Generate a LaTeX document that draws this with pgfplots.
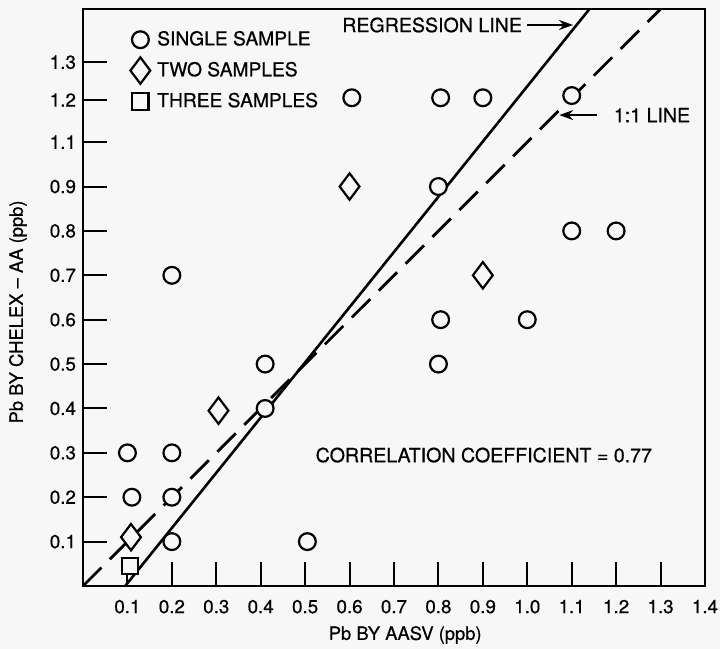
\documentclass[border=0pt]{standalone}
\usepackage{fontspec}
\setmainfont{TeX Gyre Heros}[FakeBold=0.6]
\usepackage{pgfplots}
\pgfplotsset{compat=1.18}
\usetikzlibrary{arrows.meta}
\definecolor{paper}{gray}{0.97}
\newcommand\annfont{\fontsize{9.8}{11.5}\selectfont}

\begin{document}
\begin{tikzpicture}
\fill[paper] (-41.5pt,-31.5pt) rectangle (318.5pt,293pt);
\begin{axis}[
    at={(0pt,0pt)}, anchor=south west,
    scale only axis,
    width=311pt, height=288.5pt,
    xmin=0, xmax=1.4, ymin=0, ymax=1.3,
    axis line style={line width=1.2pt},
    tick align=inside,
    major tick length=12pt,
    tick style={line width=1pt, black},
    xtick pos=lower, ytick pos=left,
    xtick={0.1,0.2,0.3,0.4,0.5,0.6,0.7,0.8,0.9,1.0,1.1,1.2,1.3,1.4},
    xticklabels={0.1,0.2,0.3,0.4,0.5,0.6,0.7,0.8,0.9,1.0,1.1,1.2,1.3,1.4},
    % the scanned axis skips 1.0 and the upper labels are unevenly spaced
    ytick={0.1,0.2,0.3,0.4,0.5,0.6,0.7,0.8,0.9,1.0,1.095,1.18},
    yticklabels={0.1,0.2,0.3,0.4,0.5,0.6,0.7,0.8,0.9,1.1,1.2,1.3},
    ticklabel style={font=\fontsize{9.4}{11}\selectfont},
    xticklabel style={yshift=-3.4pt},
    /pgf/number format/assume math mode=true,
    xlabel={Pb BY AASV (ppb)},
    ylabel={Pb BY CHELEX -- AA (ppb)},
    label style={font=\fontsize{9.2}{11}\selectfont},
    xlabel style={at={(axis description cs:0.518,-0.085)}, anchor=center},
    ylabel style={at={(axis description cs:-0.1045,0.475)}, anchor=center},
    legend style={at={(axis cs:0.106,1.258)}, anchor=north west, draw=none, fill=none,
        inner sep=0pt, font=\fontsize{9.6}{11}\selectfont, row sep=3pt,
        nodes={inner sep=1.5pt},
        /tikz/every odd column/.style={column sep=2pt}},
    legend cell align=left,
    legend image code/.code={\draw[#1] plot coordinates {(0pt,0pt)};},
]
% regression line and 1:1 line
\addplot[black, line width=1.3pt, forget plot] coordinates {(0.095,0) (1.14,1.30)};
\addplot[black, line width=1.4pt, dash pattern=on 13pt off 6pt, forget plot] coordinates {(0,0) (1.3,1.3)};

% single samples
\addplot[only marks, mark=*, mark size=4.2pt, mark options={fill=paper, draw=black, line width=1.1pt}]
coordinates {
    (0.1,0.3) (0.2,0.3) (0.11,0.2) (0.2,0.2) (0.2,0.1) (0.2,0.7)
    (0.41,0.5) (0.41,0.4) (0.505,0.1)
    (0.605,1.1) (0.805,1.1) (0.9,1.1) (1.1,1.105)
    (0.8,0.9) (0.805,0.6) (0.8,0.5) (1.0,0.6) (1.1,0.8) (1.2,0.8)
};
\addlegendentry{SINGLE SAMPLE}
% two samples
\addplot[only marks, mark=diamond*, mark size=6.6pt, mark options={fill=paper, draw=black, line width=1.1pt}]
coordinates {
    (0.6,0.9) (0.9,0.7) (0.305,0.395) (0.108,0.11)
};
\addlegendentry{TWO SAMPLES}
% three samples
\addplot[only marks, mark=square*, mark size=4.1pt, mark options={fill=paper, draw=black, line width=1.1pt}]
coordinates {
    (0.106,0.045)
};
\addlegendentry{THREE SAMPLES}

\node[anchor=east, inner sep=0pt, font=\annfont] at (axis cs:0.989,1.264) {REGRESSION LINE};
\draw[-{Stealth[length=7pt,width=5pt]}, line width=0.9pt] (axis cs:1.0,1.264) -- (axis cs:1.103,1.264);
\node[anchor=west, inner sep=0pt, font=\annfont] at (axis cs:1.194,1.061) {1:1 LINE};
\draw[-{Stealth[length=7pt,width=5pt]}, line width=0.9pt] (axis cs:1.158,1.061) -- (axis cs:1.072,1.061);
\node[anchor=west, inner sep=0pt, font=\annfont] at (axis cs:0.523,0.295) {CORRELATION COEFFICIENT = 0.77};
\end{axis}
\pgfresetboundingbox
\path (-41.5pt,-31.5pt) rectangle (318.5pt,293pt);
\end{tikzpicture}
\end{document}
